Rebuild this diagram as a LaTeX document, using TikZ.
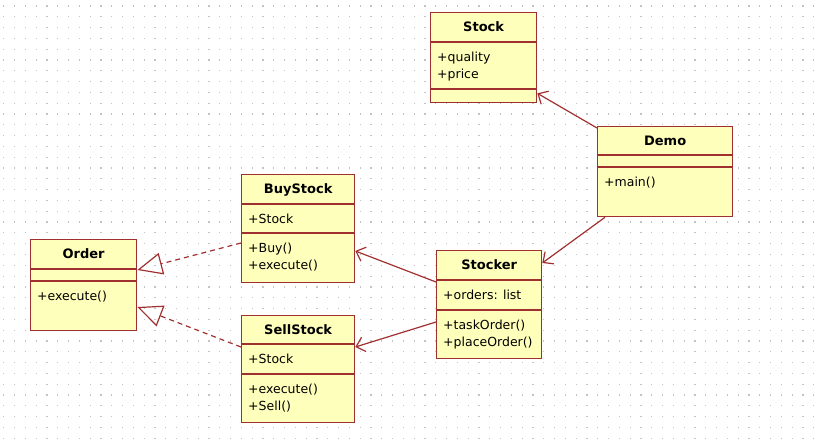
\documentclass[tikz,border=0pt]{standalone}
\usepackage{fontspec}
\setmainfont{DejaVu Sans}
\usepackage{tikz}
\usetikzlibrary{arrows.meta}
\definecolor{umlred}{RGB}{160,48,48}
\definecolor{umlfill}{RGB}{255,255,188}
\definecolor{griddot}{RGB}{195,195,195}
\tikzset{classbox/.style={draw=umlred, fill=umlfill, line width=1.3pt, inner sep=0pt}}
\tikzset{classline/.style={umlred, line width=1.3pt}}
\tikzset{classtitle/.style={font=\fontsize{13}{15}\selectfont\bfseries, inner sep=0pt}}
\tikzset{member/.style={font=\fontsize{12.5}{17}\selectfont, align=left, inner sep=0pt}}
\tikzset{assoc/.style={umlred, line width=1.2pt, -{Straight Barb[length=8pt,width=15pt]}}}
\tikzset{realize/.style={umlred, line width=1.2pt, dash pattern=on 5pt off 4pt, -{Triangle[open,length=25pt,width=22pt]}}}
% name, corner, width, heights of the three parts, title, attributes, operations
\newcommand{\umlclass}[9]{%
  \node[classbox, minimum width=#3pt, minimum height={#4pt+#5pt+#6pt}, anchor=north west] (#1) at #2 {};
  \draw[classline] ([yshift=-#4pt]#1.north west) -- ([yshift=-#4pt]#1.north east);
  \draw[classline] ([yshift={-(#4+#5)*1pt}]#1.north west) -- ([yshift={-(#4+#5)*1pt}]#1.north east);
  \node[classtitle, anchor=base] (#1-title) at ([yshift=-19.5pt]#1.north) {#7};
  \node[member, anchor=north west] (#1-attr) at ([xshift=7pt, yshift={-(#4+9.5)*1pt}]#1.north west) {#8};
  \node[member, anchor=north west] (#1-ops) at ([xshift=7pt, yshift={-(#4+#5+9.5)*1pt}]#1.north west) {#9};
}

\begin{document}
\begin{tikzpicture}[x=1pt, y=-1pt]
  \useasboundingbox (0,0) rectangle (821,446);
  \foreach \i in {0,...,75}
    \foreach \j in {0,...,40}
      \fill[griddot] (3.2+\i*10.8, 5.5+\j*10.8) rectangle ++(1.2,1.2);
  \umlclass{stock}{(430,12)}{106}{30}{47}{13}{Stock}{+quality\\+price}{}
  \umlclass{demo}{(597,126)}{135}{29}{12}{49}{Demo}{}{+main()}
  \umlclass{buystock}{(241,174)}{113}{30}{29}{49}{BuyStock}{+Stock}{+Buy()\\+execute()}
  \umlclass{order}{(30,239)}{106}{30}{12}{49}{Order}{}{+execute()}
  \umlclass{stocker}{(436,250)}{105}{30}{30}{48}{Stocker}{+orders: list}{+taskOrder()\\+placeOrder()}
  \umlclass{sellstock}{(241,315)}{113}{29}{30}{48}{SellStock}{+Stock}{+execute()\\+Sell()}
  \draw[assoc] ([yshift=-2pt]demo.north west) -- ([yshift=10pt]stock.south east);
  \draw[assoc] ([xshift=8pt]demo.south west) -- ([yshift=-13pt]stocker.north east);
  \draw[assoc] ([yshift=-32pt]stocker.north west) -- ([yshift=-77pt]buystock.north east);
  \draw[assoc] ([yshift=-72pt]stocker.north west) -- ([yshift=-32pt]sellstock.north east);
  \draw[realize] ([yshift=-69pt]buystock.north west) -- ([yshift=-31pt]order.north east);
  \draw[realize] ([yshift=-32pt]sellstock.north west) -- ([yshift=-68pt]order.north east);
\end{tikzpicture}
\end{document}
